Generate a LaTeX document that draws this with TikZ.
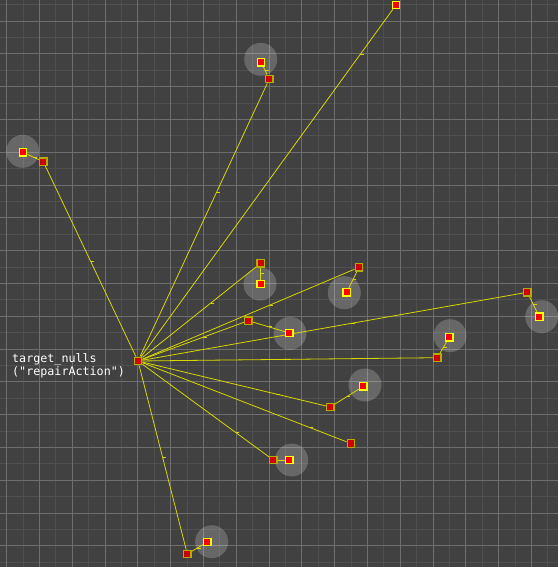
\documentclass[tikz,border=0pt]{standalone}
\usepackage{fontspec}
\newfontfamily\labelmono{DejaVu Sans Mono}
\definecolor{bg}{HTML}{414141}
\definecolor{gridmajor}{HTML}{6E6E6E}
\definecolor{gridminor}{HTML}{4F4F4F}
\definecolor{linky}{HTML}{D8D800}
\definecolor{pborder}{HTML}{B4AC00}
\definecolor{pfill}{HTML}{D00000}
\definecolor{cborder}{HTML}{FFFF00}
\definecolor{cfill}{HTML}{FF0000}
\begin{document}
\begin{tikzpicture}[x=1pt,y=-1pt,
  parentnull/.style={rectangle,draw=pborder,fill=pfill,line width=1.3pt,minimum size=7.6pt,inner sep=0pt},
  childnull/.style={rectangle,draw=cborder,fill=cfill,line width=1.3pt,minimum size=7.6pt,inner sep=0pt},
  link/.style={draw=linky,line width=0.8pt},
  tickmark/.style={draw=linky,line width=0.9pt},
  halo/.style={circle,fill=white,fill opacity=0.2,minimum size=33pt,inner sep=0pt},
  majorline/.style={draw=gridmajor,line width=1pt},
  minorline/.style={draw=gridminor,line width=1pt}]
\useasboundingbox[fill=bg] (0,0) rectangle (558,567);
% grid (aligned to whole pixels)
\foreach \i in {0,...,17} {
  \pgfmathsetmacro{\gx}{floor(-9.7+32.8*\i)+0.5}
  \pgfmathsetmacro{\gy}{floor(4.6+32.8*\i)+0.5}
  \draw[minorline] (\gx,0) -- (\gx,567);
  \draw[minorline] (0,\gy) -- (558,\gy);
}
\foreach \i in {0,...,16} {
  \pgfmathsetmacro{\gx}{floor(6.7+32.8*\i)+0.5}
  \pgfmathsetmacro{\gy}{floor(21+32.8*\i)+0.5}
  \draw[majorline] (\gx,0) -- (\gx,567);
  \draw[majorline] (0,\gy) -- (558,\gy);
}
% halos
\node[halo] (hA) at (22.7,151.3) {};
\node[halo] (hB) at (260.7,59.3) {};
\node[halo] (hD) at (260,284) {};
\node[halo] (hE) at (344.3,292.7) {};
\node[halo] (hF) at (290,333.3) {};
\node[halo] (hG) at (541.7,316.7) {};
\node[halo] (hH) at (450,335.7) {};
\node[halo] (hI) at (365,385) {};
\node[halo] (hK) at (291.7,460) {};
\node[halo] (hL) at (211.7,541.7) {};
% centre
\node[parentnull] (c0) at (138,361) {};
% first level
\node[parentnull] (pA) at (43.3,161.7) {};
\node[parentnull] (pB) at (269.3,79) {};
\node[childnull]  (pC) at (396,5) {};
\node[parentnull] (pD) at (260.7,263.3) {};
\node[parentnull] (pE) at (359,267.3) {};
\node[parentnull] (pF) at (248.3,320.7) {};
\node[parentnull] (pG) at (527.3,292.3) {};
\node[parentnull] (pH) at (437.3,357.7) {};
\node[parentnull] (pI) at (330.3,407) {};
\node[parentnull] (pJ) at (351,443.5) {};
\node[parentnull] (pK) at (273.3,460) {};
\node[parentnull] (pL) at (187.3,554) {};
% second level
\node[childnull] (cA) at (23,152.3) {};
\node[childnull] (cB) at (261,62.3) {};
\node[childnull] (cD) at (260.7,284) {};
\node[childnull] (cE) at (346.7,292.3) {};
\node[childnull] (cF) at (289.3,333) {};
\node[childnull] (cG) at (539.3,316.7) {};
\node[childnull] (cH) at (449.3,337.3) {};
\node[childnull] (cI) at (363.3,386.3) {};
\node[childnull] (cK) at (289.3,460) {};
\node[childnull] (cL) at (207.3,542) {};
% links from centre
\foreach \p/\t in {pA/0.5,pB/0.6,pC/0.87,pD/0.6,pE/0.6,pF/0.6,pG/0.55,pH/0.5,pI/0.73,pJ/0.82,pK/0.74,pL/0.5} {
  \draw[link] (c0) -- (\p) coordinate[pos=\t] (t\p);
  \draw[tickmark] (t\p) -- ++(3.5,0);
}
% child links
\foreach \p/\c in {pA/cA,pB/cB,pD/cD,pE/cE,pF/cF,pG/cG,pH/cH,pI/cI,pK/cK,pL/cL} {
  \draw[link] (\p) -- (\c) coordinate[pos=0.5] (m\c);
  \draw[tickmark] (m\c) -- ++(3.5,0);
}
% redraw markers on top
\foreach \n in {c0,pA,pB,pD,pE,pF,pG,pH,pI,pJ,pK,pL} {
  \node[parentnull] at (\n) {};
}
\foreach \n in {pC,cA,cB,cD,cE,cF,cG,cH,cI,cK,cL} {
  \node[childnull] at (\n) {};
}
% label
\node[anchor=base west,align=left,text=white,inner sep=0pt,
  font=\labelmono\fontsize{11.7}{13}\selectfont] (lbl) at (12,375)
  {target\_nulls\\("repairAction")};
\end{tikzpicture}
\end{document}
